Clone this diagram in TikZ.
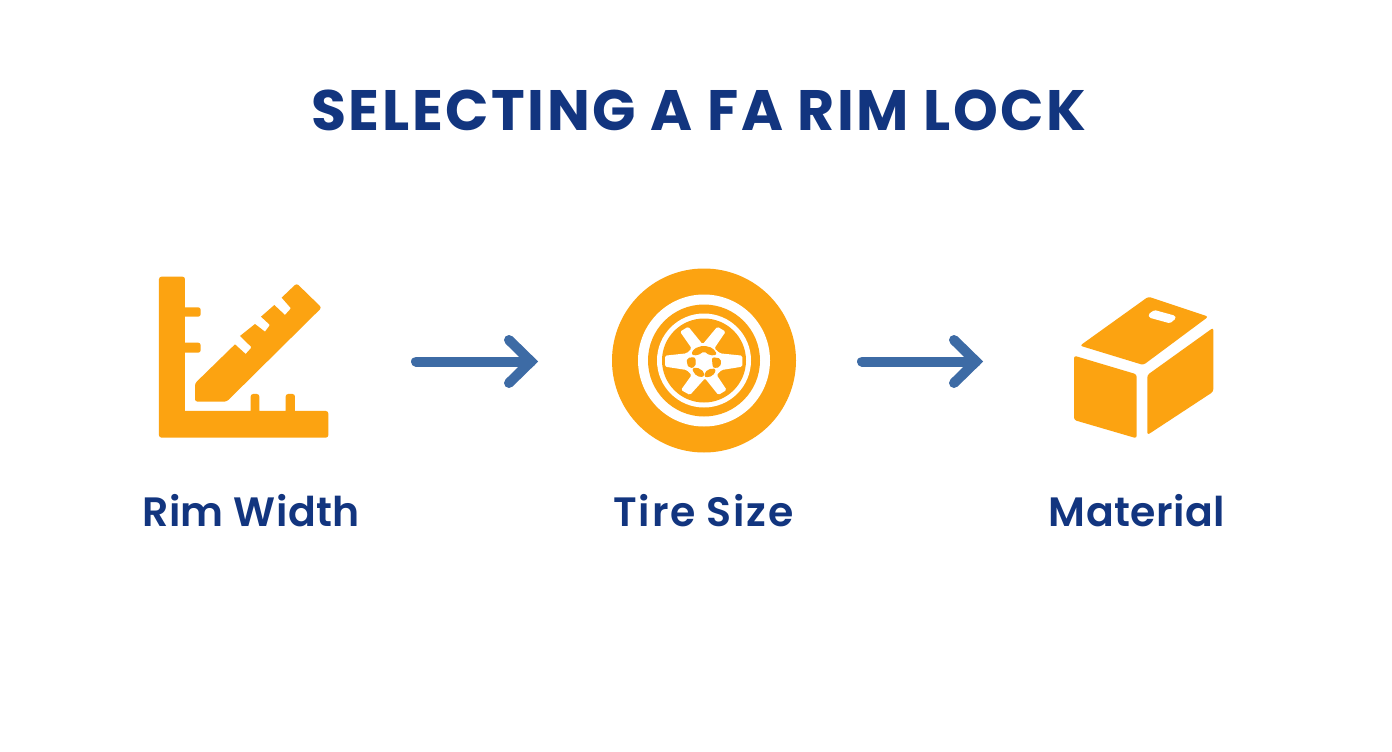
\documentclass[tikz,border=0pt]{standalone}
\usepackage{fontspec}
\setmainfont{Poppins}
\newfontfamily\ttlfont[LetterSpace=4.5]{Poppins}
\newfontfamily\lblfont[LetterSpace=0.9]{Poppins SemiBold}
\newfontfamily\tirefont[LetterSpace=4]{Poppins SemiBold}
\newfontfamily\matfont[LetterSpace=1.2]{Poppins SemiBold}
\definecolor{navy}{HTML}{12357F}
\definecolor{amber}{HTML}{FCA311}
\definecolor{steel}{HTML}{3D6BA5}
\tikzset{
  icon/.style={fill=amber,draw=none,rounded corners=2.5pt},
  cut/.style={fill=white,draw=none},
  hubpart/.style={fill=amber,draw=amber,line width=1pt,line join=round,rounded corners=2pt},
  flow/.style={draw=steel,line width=10pt,line cap=round,line join=miter},
  lbl/.style={text=navy,inner sep=0pt,anchor=base,font=\fontsize{41}{48}\selectfont},
  ttl/.style={text=navy,inner sep=0pt,anchor=base,font=\fontsize{57}{66}\selectfont\ttlfont\bfseries},
  zoomA/.style={shift={(140,260)},x=0.3333pt,y=-0.3333pt},
  zoomC/.style={shift={(1060,285)},x=0.3333pt,y=-0.3333pt},
  zoomD/.style={shift={(655,315)},x=0.3333pt,y=-0.3333pt},
  zoomE/.style={shift={(180,275)},x=0.3333pt,y=-0.3333pt}
}
\begin{document}
\begin{tikzpicture}[x=1pt,y=-1pt]
\useasboundingbox (0,0) rectangle (1392,752);
\fill[white] (0,0) rectangle (1392,752);
\node[ttl] (title) at (699,130) {SELECTING A FA RIM LOCK};
% ruler icon
\begin{scope}[zoomA]
\fill[icon] (57,50) -- (135,50) [sharp corners] -- (135,142) [rounded corners=2.5pt] -- (182,142) -- (182,170) [sharp corners] -- (135,170) -- (135,248) [rounded corners=2.5pt] -- (182,248) -- (182,278) [sharp corners] -- (135,278) -- (135,453) -- (332,453) [rounded corners=2.5pt] -- (332,402) -- (358,402) [sharp corners] -- (358,453) -- (437,453) [rounded corners=2.5pt] -- (437,402) -- (465,402) [sharp corners] -- (465,453) [rounded corners=2.5pt] -- (565,453) -- (565,533) -- (57,533) -- cycle;
\end{scope}
\begin{scope}[zoomE]
\fill[icon] (45,325) [sharp corners] -- (165,208) -- (197,237) [rounded corners=1pt] -- (215,217) [sharp corners] -- (180,183) -- (225,147) -- (255,170) [rounded corners=1pt] -- (270,150) [sharp corners] -- (243,125) -- (283,90) -- (315,120) [rounded corners=1pt] -- (333,100) [sharp corners] -- (305,68) [rounded corners=2.5pt] -- (350,25) -- (425,98) -- (140,380) -- (45,380) -- cycle;
\end{scope}
% tire icon
\fill[amber] (704,360.5) circle (92);
\fill[white] (704,360.5) circle (66);
\fill[amber] (704,360.5) circle (56);
\fill[white] (704,360.5) circle (47);
\fill[amber] (704,360.5) circle (42);
\begin{scope}[zoomD]
\fill[white,rounded corners=1.5pt] (75,50) -- (100,35) -- (143,88) -- (187,35) -- (212,50) -- (178,100) -- (195,115) -- (262,122) -- (262,155) -- (200,165) -- (185,180) -- (215,225) -- (190,240) -- (150,190) -- (105,240) -- (78,225) -- (110,180) -- (95,165) -- (30,155) -- (30,122) -- (95,115) -- (110,100) -- cycle;
\draw[hubpart] (110,118) -- (118,102) -- (145,93) -- (172,100) -- (185,118) -- (165,120) -- (147,107) -- (128,120) -- cycle;
\draw[hubpart] (97,130) -- (120,128) -- (120,155) -- (103,158) -- (97,145) -- cycle;
\draw[hubpart] (172,128) -- (197,132) -- (195,155) -- (175,158) -- cycle;
\draw[hubpart] (112,162) -- (125,158) -- (147,172) -- (145,185) -- (125,182) -- cycle;
\draw[hubpart] (150,172) -- (172,160) -- (182,165) -- (172,182) -- (150,186) -- cycle;
\end{scope}
% box icon
\begin{scope}[zoomC]
\fill[icon] (265,35) -- (445,95) -- (250,240) -- (60,182) -- cycle;
\fill[cut,rounded corners=1.5pt] (265,88) -- (283,75) -- (345,92) -- (348,100) -- (330,115) -- (268,98) -- cycle;
\fill[icon] (42,212) -- (230,268) -- (230,460) -- (42,405) -- cycle;
\fill[icon] (262,270) -- (460,128) -- (460,320) -- (262,450) -- cycle;
\end{scope}
% connectors
\coordinate (a1) at (416,361.5);
\coordinate (a2) at (531,361.5);
\coordinate (b1) at (862,361.5);
\coordinate (b2) at (976,361.5);
\draw[flow] (a1) -- (a2);
\draw[flow] (509,340) -- (a2) -- (509,383);
\draw[flow] (b1) -- (b2);
\draw[flow] (954,340) -- (b2) -- (954,383);
% labels
\node[lbl] (rim) at (251,526) {\lblfont Rim Width};
\node[lbl] (tire) at (703.5,526) {\tirefont Tire Size};
\node[lbl] (mat) at (1137,526) {\matfont Material};
\end{tikzpicture}
\end{document}
